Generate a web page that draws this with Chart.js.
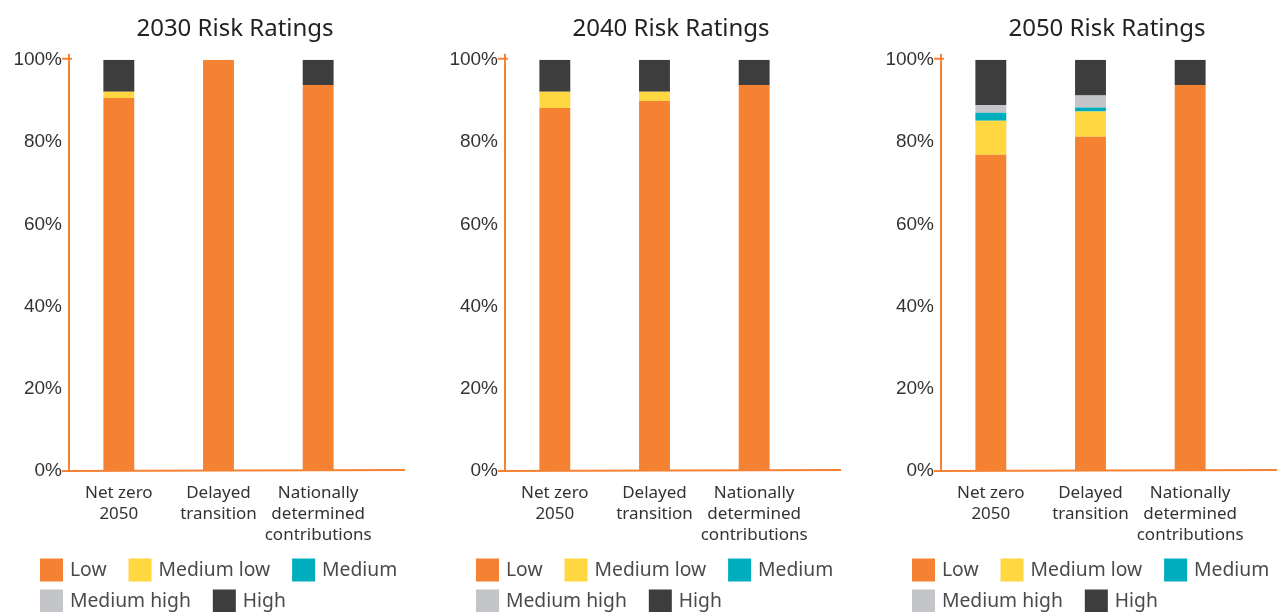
<!DOCTYPE html>
<html>
<head>
<meta charset="utf-8">
<script src="https://cdn.jsdelivr.net/npm/chart.js@4.4.1/dist/chart.umd.min.js"></script>
<style>
  html, body { margin: 0; padding: 0; background: #fff; overflow: hidden; width: 1279px; height: 612px; }
  .panel { position: absolute; top: 0; width: 470px; height: 612px; }
</style>
</head>
<body>
<div class="panel" style="left:0px"><canvas id="c2030" width="470" height="612"></canvas></div>
<div class="panel" style="left:436px"><canvas id="c2040" width="470" height="612"></canvas></div>
<div class="panel" style="left:872px"><canvas id="c2050" width="470" height="612"></canvas></div>
<script>
// scenarios on the x axis
var categories = [['Net zero', '2050'], ['Delayed', 'transition'], ['Nationally', 'determined', 'contributions']];
var yTicks = [0, 20, 40, 60, 80, 100];
var ratings = ['Low', 'Medium low', 'Medium', 'Medium high', 'High'];
var colors = ['#F58233', '#FFD740', '#00ADBC', '#C4C5C9', '#3D3D3D'];

// share of ratings (%) per scenario
var low2030     = [90.7, 100, 93.9];
var medLow2030  = [1.5, 0, 0];
var medium2030  = [0, 0, 0];
var medHigh2030 = [0, 0, 0];
var high2030    = [7.8, 0, 6.1];

var low2040     = [88.3, 90.0, 93.9];
var medLow2040  = [3.9, 2.2, 0];
var medium2040  = [0, 0, 0];
var medHigh2040 = [0, 0, 0];
var high2040    = [7.8, 7.8, 6.1];

var low2050     = [76.9, 81.3, 93.9];
var medLow2050  = [8.3, 6.1, 0];
var medium2050  = [1.9, 1.0, 0];
var medHigh2050 = [1.9, 2.9, 0];
var high2050    = [11.0, 8.7, 6.1];

var orange = '#F58233';

// hand-drawn looking orange axes
var axesPlugin = {
  id: 'axesLines',
  beforeDatasetsDraw: function(chart) {
    var a = chart.chartArea, c = chart.ctx;
    c.save();
    c.strokeStyle = orange;
    c.lineWidth = 2;
    c.beginPath();
    c.moveTo(a.left, a.top - 6);
    c.lineTo(a.left, a.bottom + 1);
    c.moveTo(a.left - 7, a.bottom);
    c.lineTo(a.right + 37, a.bottom - 1);
    c.moveTo(a.left - 7, a.top - 1);
    c.lineTo(a.left + 3, a.top - 1);
    c.stroke();
    c.restore();
  }
};

// two-row legend under the chart
var legendPlugin = {
  id: 'rowsLegend',
  afterDraw: function(chart) {
    var c = chart.ctx;
    var rows = [[0, 1, 2], [3, 4]];
    var rowY = [570, 601];
    c.save();
    c.font = '19.3px "Noto Sans"';
    c.textBaseline = 'middle';
    rows.forEach(function(row, r) {
      var x = 40;
      row.forEach(function(i) {
        var ds = chart.data.datasets[i];
        c.fillStyle = ds.backgroundColor;
        c.fillRect(x, rowY[r] - 11.5, 23, 23);
        c.fillStyle = '#4a4a4a';
        c.fillText(ds.label, x + 30, rowY[r] + 1);
        x += 30 + c.measureText(ds.label).width + 22;
      });
    });
    c.restore();
  }
};

function makeChart(id, year, series) {
  var datasets = ratings.map(function(r, i) {
    return {
      label: r,
      data: series[i],
      backgroundColor: colors[i],
      borderWidth: 0,
      barPercentage: 0.31,
      categoryPercentage: 1
    };
  });
  return new Chart(document.getElementById(id).getContext('2d'), {
    type: 'bar',
    data: { labels: categories, datasets: datasets },
    plugins: [axesPlugin, legendPlugin],
    options: {
      responsive: false,
      animation: false,
      layout: { padding: 0 },
      plugins: {
        legend: { display: false },
        tooltip: { enabled: false },
        title: {
          display: true,
          text: year + ' Risk Ratings',
          color: '#222',
          font: { family: '"Noto Sans"', size: 24, weight: 'normal', lineHeight: 1.2 },
          padding: { top: 15, bottom: 16 }
        }
      },
      scales: {
        x: {
          stacked: true,
          grid: { display: false, drawTicks: false },
          border: { display: false },
          ticks: {
            color: '#333',
            padding: 12,
            maxRotation: 0,
            autoSkip: false,
            font: { family: '"Noto Sans"', size: 17, lineHeight: 1.22 }
          },
          afterFit: function(s) { s.height = 141; }
        },
        y: {
          stacked: true,
          min: 0,
          max: 100,
          afterBuildTicks: function(s) { s.ticks = yTicks.map(function(v) { return { value: v }; }); },
          grid: { display: false, drawTicks: false },
          border: { display: false },
          ticks: {
            color: '#333',
            padding: 7,
            font: { family: '"Liberation Sans"', size: 19 },
            callback: function(v) { return v + '%'; }
          },
          afterFit: function(s) { s.width = 69; }
        },
        yRight: {
          position: 'right',
          display: true,
          grid: { display: false, drawTicks: false },
          border: { display: false },
          ticks: { display: false },
          afterFit: function(s) { s.width = 102; }
        }
      }
    }
  });
}

makeChart('c2030', '2030', [low2030, medLow2030, medium2030, medHigh2030, high2030]);
makeChart('c2040', '2040', [low2040, medLow2040, medium2040, medHigh2040, high2040]);
makeChart('c2050', '2050', [low2050, medLow2050, medium2050, medHigh2050, high2050]);
</script>
</body>
</html>
